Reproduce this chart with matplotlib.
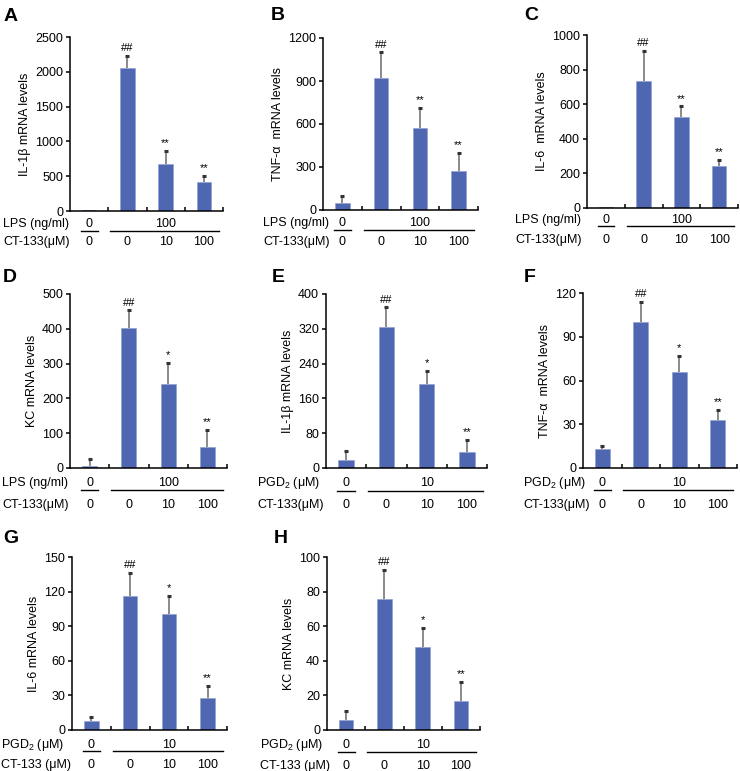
import matplotlib
matplotlib.use("Agg")
import matplotlib.pyplot as plt
import matplotlib.transforms as mtransforms
import numpy as np

plt.rcParams['font.family'] = ['Liberation Sans', 'DejaVu Sans']
plt.rcParams['mathtext.fontset'] = 'custom'
plt.rcParams['mathtext.rm'] = 'Liberation Sans'

# bar means and upper error (SD) per panel, 4 groups each
A_mean = [15, 2050, 680, 410]
A_err = [0, 175, 180, 90]
B_mean = [50, 920, 570, 270]
B_err = [45, 180, 140, 130]
C_mean = [5, 735, 525, 245]
C_err = [0, 175, 62, 32]
D_mean = [7, 403, 240, 60]
D_err = [20, 50, 62, 50]
E_mean = [19, 323, 193, 37]
E_err = [19, 46, 30, 28]
F_mean = [13, 100, 66, 33]
F_err = [2, 14, 11, 7]
G_mean = [8, 116, 101, 28]
G_err = [3.5, 20, 15, 10]
H_mean = [5.5, 76, 48, 17]
H_err = [5.5, 16.5, 11, 11]

panel_letters = ["A", "B", "C", "D", "E", "F", "G", "H"]
ylabels = ["IL-1β mRNA levels", "TNF-α  mRNA levels", "IL-6  mRNA levels",
           "KC mRNA levels", "IL-1β mRNA levels", "TNF-α  mRNA levels",
           "IL-6 mRNA levels", "KC mRNA levels"]
yticks = [np.arange(0, 2501, 500), np.arange(0, 1201, 300), np.arange(0, 1001, 200),
          np.arange(0, 501, 100), np.arange(0, 401, 80), np.arange(0, 121, 30),
          np.arange(0, 151, 30), np.arange(0, 101, 20)]
sig_lps = ["", "##", "**", "**"]
sig_pgd = ["", "##", "*", "**"]
sigs = [sig_lps, sig_lps, sig_lps, sig_pgd, sig_pgd, sig_pgd, sig_pgd, sig_pgd]

stim_labels = ["LPS (ng/ml)"] * 4 + ["PGD$_2$ (μM)"] * 4
stim_values_lps = ["0", "100"]
stim_values_pgd = ["0", "10"]
stim_values = [stim_values_lps] * 4 + [stim_values_pgd] * 4
ct_labels = ["CT-133(μM)"] * 6 + ["CT-133 (μM)"] * 2
ct_values = ["0", "0", "10", "100"]

means = [A_mean, B_mean, C_mean, D_mean, E_mean, F_mean, G_mean, H_mean]
errs = [A_err, B_err, C_err, D_err, E_err, F_err, G_err, H_err]

# layout in pixels: axes (left, top, right, bottom), letter (x, baseline),
# row label x offset, table row offsets below axes (row1, line, row2)
axes_px = [(70, 37, 223, 211), (323, 38, 478, 210), (587, 35, 738, 208),
           (70, 294, 227, 468), (326, 294, 487, 468), (583, 293, 737, 468),
           (72, 557, 227, 730), (327, 557, 480, 730)]
letter_px = [(4, 21), (271, 20), (524, 20), (3, 282), (272, 282), (524, 282),
             (3, 543), (274, 543)]
label_dx = [67, 60, 72, 68, 69, 60, 71, 67]
row_off = [(13, 20, 31), (13, 20, 32), (12, 18, 32), (15, 22, 37), (15, 23, 37),
           (15, 22, 37), (15, 21, 35), (15, 22, 36)]

W, H = 740, 771
bar_color = "#4f66b0"

fig = plt.figure(figsize=(W / 100, H / 100), dpi=100)

for i in range(8):
    l, t, r, b = axes_px[i]
    ax = fig.add_axes([l / W, 1 - b / H, (r - l) / W, (b - t) / H])
    x = np.arange(4)
    m = np.array(means[i], dtype=float)
    e = np.array(errs[i], dtype=float)
    ax.bar(x, m, width=0.38, color=bar_color, edgecolor="#8a9bd0", linewidth=0.4, zorder=2)
    has = e > 0
    ax.vlines(x[has], m[has], m[has] + e[has], color="#777777", linewidth=1.2, zorder=3)
    ax.plot(x[has], (m + e)[has], ls="none", marker="_", ms=3.5, mew=2.2,
            color="#333333", zorder=4)
    for xi, s, top in zip(x, sigs[i], m + e):
        if s:
            ax.annotate(s, (xi, top), xytext=(0, 2), textcoords="offset points",
                        ha="center", va="bottom", fontsize=8)

    ax.set_xlim(-0.5, 3.5)
    ax.set_ylim(0, yticks[i][-1])
    ax.set_yticks(yticks[i])
    ax.set_xticks([])
    ax.set_xticks([0.5, 1.5, 2.5, 3.5], minor=True)
    ax.tick_params(axis="x", which="minor", direction="in", length=3, width=1.1)
    ax.tick_params(axis="y", direction="out", length=3, width=1.1, labelsize=9, pad=2)
    for sp in ["top", "right"]:
        ax.spines[sp].set_visible(False)
    for sp in ["left", "bottom"]:
        ax.spines[sp].set_linewidth(1.1)
    ax.set_ylabel(ylabels[i], fontsize=9, labelpad=3)

    # treatment table below the axes
    hpx = b - t
    trans = mtransforms.blended_transform_factory(ax.transData, ax.transAxes)
    r1, ln, r2 = [-o / hpx for o in row_off[i]]
    lx = -label_dx[i] / (r - l)
    ax.text(lx, r1, stim_labels[i], transform=ax.transAxes, ha="left", va="center", fontsize=9)
    ax.text(lx, r2, ct_labels[i], transform=ax.transAxes, ha="left", va="center", fontsize=9)
    ax.text(0, r1, stim_values[i][0], transform=trans, ha="center", va="center", fontsize=9)
    ax.text(2, r1, stim_values[i][1], transform=trans, ha="center", va="center", fontsize=9)
    for xi, v in zip(x, ct_values):
        ax.text(xi, r2, v, transform=trans, ha="center", va="center", fontsize=9)
    ax.plot([-0.22, 0.22], [ln, ln], transform=trans, color="black", lw=1, clip_on=False)
    ax.plot([0.55, 3.4], [ln, ln], transform=trans, color="black", lw=1, clip_on=False)

    lx_px, ly_px = letter_px[i]
    fig.text(lx_px / W, 1 - ly_px / H, panel_letters[i], fontsize=14,
             fontweight="bold", ha="left", va="baseline")

fig.savefig("out.png", dpi=100)
